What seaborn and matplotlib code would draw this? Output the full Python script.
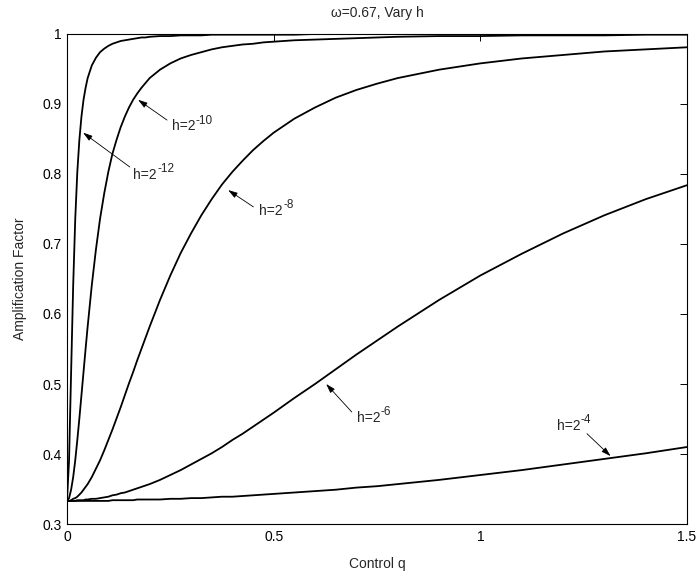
import matplotlib
matplotlib.use("Agg")
import matplotlib.pyplot as plt
from matplotlib.ticker import FormatStrFormatter
import seaborn as sns
import pandas as pd

# Control parameter q (shared abscissa for every curve)
q = [0, 0.005, 0.01, 0.015, 0.02, 0.025, 0.03, 0.035, 0.04, 0.045, 0.05,
     0.06, 0.07, 0.08, 0.09, 0.1, 0.11, 0.12, 0.13, 0.14, 0.15, 0.16, 0.17,
     0.18, 0.19, 0.2, 0.225, 0.25, 0.275, 0.3, 0.325, 0.35, 0.375, 0.4, 0.425,
     0.45, 0.475, 0.5, 0.55, 0.6, 0.65, 0.7, 0.75, 0.8, 0.9, 1.0, 1.1, 1.2,
     1.3, 1.4, 1.5]

# Amplification factor for each mesh size h
amp_h4 = [0.333, 0.333, 0.333, 0.333, 0.333, 0.333, 0.333, 0.333, 0.333, 0.333,
          0.333, 0.333, 0.333, 0.333, 0.333, 0.333, 0.334, 0.334, 0.334, 0.334,
          0.334, 0.334, 0.335, 0.335, 0.335, 0.335, 0.335, 0.336, 0.336, 0.337,
          0.337, 0.338, 0.339, 0.339, 0.340, 0.341, 0.342, 0.343, 0.345, 0.347,
          0.349, 0.352, 0.354, 0.357, 0.363, 0.370, 0.377, 0.385, 0.393, 0.401,
          0.410]
amp_h6 = [0.333, 0.333, 0.333, 0.333, 0.333, 0.334, 0.334, 0.334, 0.334, 0.335,
          0.335, 0.336, 0.336, 0.337, 0.338, 0.339, 0.341, 0.342, 0.344, 0.345,
          0.347, 0.349, 0.351, 0.353, 0.355, 0.357, 0.363, 0.370, 0.377, 0.385,
          0.393, 0.401, 0.410, 0.420, 0.429, 0.439, 0.449, 0.459, 0.480, 0.500,
          0.521, 0.542, 0.562, 0.582, 0.620, 0.655, 0.686, 0.715, 0.741, 0.764,
          0.784]
amp_h8 = [0.333, 0.333, 0.334, 0.336, 0.337, 0.339, 0.342, 0.345, 0.349, 0.353,
          0.357, 0.367, 0.379, 0.391, 0.405, 0.420, 0.435, 0.451, 0.467, 0.484,
          0.501, 0.517, 0.534, 0.550, 0.566, 0.582, 0.620, 0.655, 0.687, 0.715,
          0.741, 0.764, 0.785, 0.803, 0.819, 0.834, 0.847, 0.859, 0.879, 0.895,
          0.909, 0.920, 0.929, 0.937, 0.949, 0.958, 0.965, 0.970, 0.975, 0.978,
          0.981]
amp_h10 = [0.333, 0.337, 0.349, 0.367, 0.391, 0.420, 0.451, 0.484, 0.517, 0.550,
           0.582, 0.641, 0.692, 0.736, 0.772, 0.803, 0.829, 0.849, 0.867, 0.882,
           0.895, 0.906, 0.915, 0.923, 0.930, 0.937, 0.949, 0.958, 0.965, 0.970,
           0.974, 0.978, 0.981, 0.983, 0.985, 0.986, 0.988, 0.989, 0.991, 0.992,
           0.993, 0.994, 0.995, 0.996, 0.997, 0.997, 0.998, 0.998, 0.998, 0.999,
           0.999]
amp_h12 = [0.333, 0.391, 0.517, 0.641, 0.736, 0.803, 0.849, 0.882, 0.906, 0.923,
           0.937, 0.955, 0.966, 0.974, 0.979, 0.983, 0.986, 0.988, 0.990, 0.991,
           0.992, 0.993, 0.994, 0.995, 0.995, 0.996, 0.997, 0.997, 0.998, 0.998,
           0.998, 0.999, 0.999, 0.999, 0.999, 0.999, 0.999, 0.999, 0.999, 1.000,
           1.000, 1.000, 1.000, 1.000, 1.000, 1.000, 1.000, 1.000, 1.000, 1.000,
           1.000]

# Curve names: base text and exponent
curve_names = ["h=2^-4", "h=2^-6", "h=2^-8", "h=2^-10", "h=2^-12"]
curve_values = [amp_h4, amp_h6, amp_h8, amp_h10, amp_h12]

x_ticks = [0, 0.5, 1, 1.5]
y_ticks = [0.3, 0.4, 0.5, 0.6, 0.7, 0.8, 0.9, 1.0]

sns.set_theme(style="white")
plt.rcParams["font.family"] = ["Liberation Sans", "DejaVu Sans"]

frames = [pd.DataFrame({"q": q, "amp": v, "h": name})
          for name, v in zip(curve_names, curve_values)]
df = pd.concat(frames, ignore_index=True)

fig = plt.figure(figsize=(6.97, 5.73), dpi=100)
ax = fig.add_axes([0.0961, 0.0855, 0.8896, 0.8552])

sns.lineplot(data=df, x="q", y="amp", hue="h", units="h", estimator=None,
             palette=["black"] * len(curve_names), linewidth=1.3,
             legend=False, ax=ax, sort=True)

ax.set_xlim(0, 1.5)
ax.set_ylim(0.3, 1.0)
ax.set_xticks(x_ticks)
ax.set_yticks(y_ticks)
ax.xaxis.set_major_formatter(FormatStrFormatter("%g"))
ax.yaxis.set_major_formatter(FormatStrFormatter("%g"))
ax.tick_params(direction="in", top=True, right=True, length=5, width=0.7,
               labelsize=10, colors="black", pad=4)
for sp in ax.spines.values():
    sp.set_color("black")
    sp.set_linewidth(0.8)

ax.set_xlabel("Control q", fontsize=10, labelpad=10)
ax.set_ylabel("Amplification Factor", fontsize=10, labelpad=11)
ax.set_title("\u03c9=0.67, Vary h", fontsize=10, pad=12)

# Callouts: (curve name, arrow tip, arrow tail, text anchor)
callouts = [
    (curve_names[3], (0.172, 0.906), (0.242, 0.877), (0.253, 0.868)),
    (curve_names[4], (0.039, 0.859), (0.152, 0.810), (0.160, 0.799)),
    (curve_names[2], (0.390, 0.777), (0.451, 0.753), (0.465, 0.747)),
    (curve_names[1], (0.627, 0.500), (0.689, 0.460), (0.701, 0.451)),
    (curve_names[0], (1.315, 0.397), (1.258, 0.429), (1.185, 0.440)),
]
for name, tip, tail, pos in callouts:
    ax.annotate("", xy=tip, xytext=tail,
                arrowprops=dict(arrowstyle="-|>,head_length=0.8,head_width=0.25",
                                color="black", lw=0.6, mutation_scale=7,
                                shrinkA=0, shrinkB=0))
    base, expo = name.split("^")
    t = ax.text(pos[0], pos[1], base, fontsize=10, ha="left", va="center")
    ax.annotate(expo, xy=(1, 1), xycoords=t, xytext=(0.3, 3.5),
                textcoords="offset points", ha="left", va="top", fontsize=8.5)

fig.savefig("out.png", dpi=100)
